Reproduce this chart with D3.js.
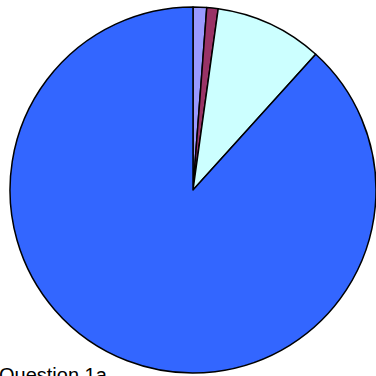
<!DOCTYPE html>
<html>
<head>
<meta charset="utf-8">
<script src="https://cdn.jsdelivr.net/npm/d3@7"></script>
<style>
  html, body { margin: 0; padding: 0; background: #fff; overflow: hidden; }
  svg { display: block; }
</style>
</head>
<body>
<svg id="chart" width="376" height="376"></svg>
<script>
// Answer shares for Question 1a, clockwise from 12 o'clock
const categories = ["A", "B", "C", "D"];
const values = [1.2, 1.0, 9.5, 88.3];
const colors = ["#9999FF", "#993366", "#CCFFFF", "#3366FF"];
const title = "Question 1a";

const svg = d3.select("#chart");
const cx = 193, cy = 190, r = 183;

const pie = d3.pie().sort(null).value(d => d.value);
const arc = d3.arc().innerRadius(0).outerRadius(r);
const color = d3.scaleOrdinal().domain(categories).range(colors);

const data = categories.map((c, i) => ({ cat: c, value: values[i] }));

svg.append("g")
  .attr("transform", `translate(${cx},${cy})`)
  .selectAll("path")
  .data(pie(data))
  .join("path")
  .attr("d", arc)
  .attr("fill", d => color(d.data.cat))
  .attr("stroke", "#000")
  .attr("stroke-width", 1.5)
  .attr("stroke-linejoin", "round");

// Caption sits at the lower-left corner, running past the bottom edge
svg.append("text")
  .attr("x", -1)
  .attr("y", 382)
  .attr("font-family", "Liberation Sans, Arial, sans-serif")
  .attr("font-size", 20)
  .attr("fill", "#000")
  .text(title);
</script>
</body>
</html>
